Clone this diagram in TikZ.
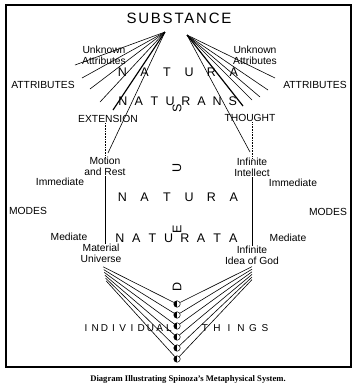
\documentclass[tikz,border=0pt]{standalone}
\usepackage{fontspec}
\setmainfont{Liberation Serif}
\newfontfamily\labelfont{Liberation Sans}
\newfontfamily\titlefont[LetterSpace=12]{Liberation Sans}
\usetikzlibrary{positioning}

\begin{document}
\begin{tikzpicture}[x=1pt, y=-1pt,
  lbl/.style={font=\labelfont\fontsize{10.3}{10.8}\selectfont, inner sep=0pt, align=center},
  big/.style={font=\labelfont\fontsize{12.5}{13}\selectfont, inner sep=0pt},
  small/.style={font=\labelfont\fontsize{10}{10}\selectfont, inner sep=0pt},
  fan/.style={line width=0.6pt},
  fanb/.style={line width=1.2pt},
  dot/.style={circle, draw, line width=0.5pt, inner sep=0pt, minimum size=6.5pt,
    path picture={\fill (path picture bounding box.south west) rectangle (path picture bounding box.north);}}]
  \useasboundingbox (0,0) rectangle (359,389);

  % 外框
  \draw[line width=1.1pt] (6,5) rectangle (351,367);

  % 实体
  \node[font=\titlefont\fontsize{15}{15}\selectfont, inner sep=0pt] (sub) at (179,18) {SUBSTANCE};
  \coordinate (sl) at (165,32);
  \coordinate (sr) at (187,35);

  % 属性
  \node[lbl] (unkl) at (104,55.5) {Unknown\\Attributes};
  \node[lbl] (unkr) at (255,55.5) {Unknown\\Attributes};
  \node[lbl] (attl) at (43,85) {ATTRIBUTES};
  \node[lbl] (attr) at (315,85) {ATTRIBUTES};
  \node[lbl] (ext) at (108,119) {EXTENSION};
  \node[lbl] (tho) at (250,118) {THOUGHT};

  % 左侧扇形线
  \foreach \x/\y [count=\i] in {75/65, 82/78, 90/89, 100/102} {
    \coordinate (al\i) at (\x,\y);
    \draw[fan] (sl) -- (al\i);
  }
  \coordinate (exl) at (113,110);
  \draw[fanb] (sl) -- (exl);
  \coordinate (mvl) at (108,153);
  \draw[fan] (sl) -- (mvl);

  % 右侧扇形线
  \foreach \x/\y [count=\i] in {275/78, 268/90, 260/97, 252/100} {
    \coordinate (ar\i) at (\x,\y);
    \draw[fan] (sr) -- (ar\i);
  }
  \coordinate (thr) at (243,106);
  \draw[fanb] (sr) -- (thr);
  \coordinate (ivr) at (250,152);
  \draw[fan] (sr) -- (ivr);

  % Natura naturans
  \foreach \ch [count=\i] in {N,A,T,U,R,A}
    \node[big] (na\i) at (100+22.3*\i,72) {\ch};
  \foreach \ch [count=\i] in {N,A,T,U,R,A,N,S}
    \node[big] (ns\i) at (107.3+15.7*\i,101) {\ch};

  % DEUS（竖排）
  \foreach \ch/\y [count=\i] in {S/108, U/168, E/229, D/287}
    \node[big, rotate=90] (deus\i) at (177,\y) {\ch};

  % 样式
  \node[lbl] (mot) at (105,166.5) {Motion\\and Rest};
  \node[lbl] (itl) at (252,167.5) {Infinite\\Intellect};
  \node[lbl] (mat) at (101,253) {Material\\Universe};
  \node[lbl] (idg) at (252,255) {Infinite\\Idea of God};
  \node[lbl] (imml) at (60,182) {Immediate};
  \node[lbl] (immr) at (293,183) {Immediate};
  \node[lbl] (model) at (28,211) {MODES};
  \node[lbl] (moder) at (328,212) {MODES};
  \node[lbl] (medl) at (69,237) {Mediate};
  \node[lbl] (medr) at (288,238) {Mediate};

  \draw[fan, densely dotted] (mot.north) -- (mot.north |- ext.south);
  \draw[fan] (mot.south) -- (mot.south |- mat.north);
  \draw[fan, densely dotted] (itl.north) -- (itl.north |- tho.south);
  \draw[fan] (itl.south) -- (idg.north);

  % Natura naturata
  \foreach \ch [count=\i] in {N,A,T,U,R,A}
    \node[big] (nb\i) at (100+22.3*\i,197) {\ch};
  \foreach \ch [count=\i] in {N,A,T,U,R,A,T,A}
    \node[big] (nt\i) at (103.8+16.2*\i,238) {\ch};

  % 个体事物
  \foreach \ch [count=\i] in {I,N,D,I,V,I,D,U,A,L}
    \node[small] (ind\i) at (76.8+9.2*\i,328) {\ch};
  \foreach \ch [count=\i] in {T,H,I,N,G,S}
    \node[small] (thg\i) at (193+12*\i,328) {\ch};

  \foreach \i in {1,...,6} {
    \node[dot] (c\i) at (177,293+11*\i) {};
    \coordinate (ml\i) at (102.5+0.6*\i,264+2.8*\i);
    \coordinate (mr\i) at (252,264+2.6*\i);
    \draw[fan] (ml\i) -- (c\i);
    \draw[fan] (mr\i) -- (c\i);
  }

  % 图注
  \node[font=\bfseries\fontsize{8.6}{9}\selectfont, inner sep=0pt] (cap) at (188,379)
    {Diagram Illustrating Spinoza's Metaphysical System.};
\end{tikzpicture}
\end{document}
